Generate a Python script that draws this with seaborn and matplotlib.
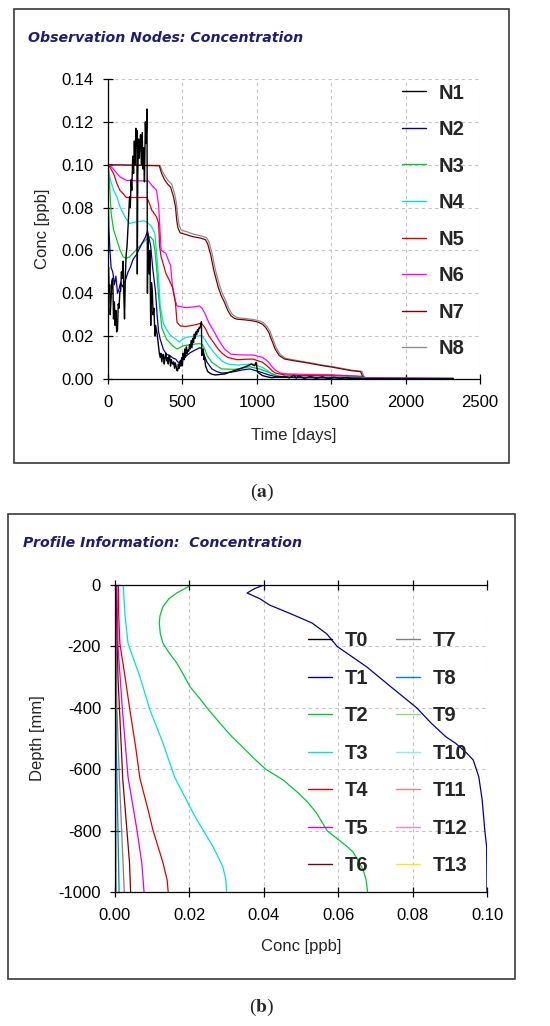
import pandas as pd
import seaborn as sns
import matplotlib.pyplot as plt
from matplotlib.patches import Rectangle
from matplotlib.lines import Line2D

sns.set_style("white")
plt.rcParams['font.family'] = ['Liberation Sans', 'DejaVu Sans']
plt.rcParams['axes.unicode_minus'] = False
plt.rcParams['mathtext.fontset'] = 'stix'

# ---- (a) observation nodes: (time [days], conc [ppb]) ----
n1 = [(0, 0.050), (4, 0.052), (8, 0.040), (11, 0.044), (15, 0.030), (21, 0.038), (26, 0.046),
      (32, 0.047), (37, 0.028), (43, 0.036), (48, 0.025), (53, 0.032), (58, 0.022), (64, 0.023),
      (69, 0.035), (74, 0.033), (80, 0.041), (85, 0.041), (90, 0.050), (96, 0.047), (102, 0.055),
      (106, 0.040), (111, 0.028), (117, 0.049), (122, 0.058), (128, 0.062), (134, 0.070),
      (140, 0.078), (145, 0.085), (150, 0.080), (155, 0.093), (160, 0.088), (166, 0.104),
      (172, 0.096), (177, 0.111), (182, 0.100), (187, 0.117), (191, 0.108), (194, 0.116),
      (197, 0.049), (200, 0.095), (205, 0.112), (209, 0.103), (214, 0.110), (219, 0.114),
      (224, 0.100), (230, 0.115), (235, 0.098), (240, 0.108), (245, 0.092), (251, 0.120),
      (256, 0.110), (262, 0.126), (265, 0.040), (268, 0.067), (272, 0.060), (277, 0.049),
      (282, 0.060), (287, 0.025), (292, 0.045), (298, 0.041), (303, 0.030), (309, 0.033),
      (315, 0.020), (320, 0.025), (330, 0.021), (340, 0.015), (345, 0.012), (351, 0.010),
      (356, 0.012), (362, 0.008), (367, 0.011), (372, 0.0115), (378, 0.007), (383, 0.010),
      (389, 0.012), (394, 0.0085), (400, 0.010), (405, 0.007), (410, 0.011), (415, 0.0108),
      (420, 0.006), (426, 0.009), (431, 0.0075), (436, 0.0069), (441, 0.008), (447, 0.005),
      (452, 0.0075), (457, 0.0062), (462, 0.004), (468, 0.0038), (473, 0.007), (478, 0.005),
      (485, 0.0085), (490, 0.006), (495, 0.010), (500, 0.0062), (505, 0.012), (511, 0.009),
      (516, 0.014), (521, 0.010), (527, 0.015), (532, 0.012), (538, 0.0135), (543, 0.0131),
      (548, 0.016), (553, 0.014), (559, 0.018), (564, 0.0146), (570, 0.019), (575, 0.017),
      (580, 0.021), (585, 0.019), (591, 0.022), (596, 0.0208), (601, 0.023), (607, 0.022),
      (612, 0.024), (617, 0.0238), (622, 0.025), (628, 0.0267), (630, 0.0109), (635, 0.013),
      (640, 0.014), (645, 0.009), (650, 0.010), (655, 0.0062), (662, 0.005), (670, 0.0035),
      (677, 0.0031), (690, 0.0025), (700, 0.0022), (719, 0.0019), (740, 0.0020), (760, 0.0022),
      (783, 0.0023), (810, 0.0030), (847, 0.0039), (880, 0.0046), (911, 0.0054), (940, 0.0062),
      (964, 0.0070), (985, 0.0062), (995, 0.0078), (1006, 0.0031), (1020, 0.0025),
      (1038, 0.0016), (1070, 0.0010), (1102, 0.0006), (1150, 0.0010), (1187, 0.0012),
      (1220, 0.0005), (1250, 0.0018), (1265, 0.0004), (1280, 0.0015), (1320, 0.0003),
      (1360, 0.0012), (1400, 0.0003), (1440, 0.0010), (1480, 0.0002), (1520, 0.0008),
      (1560, 0.0002), (1600, 0.0006), (1650, 0.0001), (1700, 0.0001), (1740, 0.0), (2320, 0.0)]

n2 = [(0, 0.087), (3, 0.080), (6, 0.070), (13, 0.060), (21, 0.052), (32, 0.050), (43, 0.044),
      (53, 0.048), (64, 0.040), (74, 0.042), (85, 0.045), (96, 0.043), (117, 0.046), (135, 0.050),
      (149, 0.052), (170, 0.056), (191, 0.058), (212, 0.061), (234, 0.064), (250, 0.066),
      (266, 0.069), (287, 0.062), (300, 0.052), (319, 0.041), (330, 0.030), (340, 0.022),
      (351, 0.0185), (372, 0.0138), (394, 0.0115), (415, 0.0110), (436, 0.0098), (457, 0.0092),
      (468, 0.0080), (479, 0.0077), (495, 0.0090), (511, 0.0100), (530, 0.0110), (553, 0.0123),
      (585, 0.0135), (617, 0.0146), (634, 0.0140), (650, 0.0105), (666, 0.0078), (698, 0.0047),
      (730, 0.0035), (762, 0.0028), (805, 0.0030), (847, 0.0034), (900, 0.0042), (953, 0.0047),
      (1017, 0.0034), (1081, 0.0019), (1145, 0.0008), (1300, 0.0006), (1500, 0.0005),
      (1700, 0.0004), (1740, 0.0001), (2320, 0.0001)]

n3 = [(0, 0.100), (9, 0.0927), (21, 0.0772), (38, 0.0695), (60, 0.0648), (81, 0.0601),
      (102, 0.0570), (123, 0.0563), (145, 0.0570), (166, 0.0586), (209, 0.0617), (251, 0.0648),
      (283, 0.0664), (304, 0.0648), (315, 0.0600), (326, 0.0524), (340, 0.0384), (362, 0.0238),
      (394, 0.0185), (421, 0.0165), (436, 0.0154), (464, 0.0140), (506, 0.0155), (549, 0.0160),
      (613, 0.0165), (634, 0.0162), (650, 0.0140), (666, 0.0109), (698, 0.0078), (762, 0.0047),
      (847, 0.0045), (900, 0.0050), (953, 0.0057), (1017, 0.0047), (1081, 0.0031),
      (1145, 0.0012), (1300, 0.0008), (1500, 0.0007), (1700, 0.0006), (1740, 0.0001),
      (2320, 0.0001)]

n4 = [(0, 0.100), (8, 0.096), (17, 0.0927), (38, 0.0881), (60, 0.0850), (81, 0.0803),
      (113, 0.0757), (145, 0.0726), (187, 0.0733), (240, 0.0738), (262, 0.0733), (294, 0.0710),
      (315, 0.0679), (330, 0.0560), (340, 0.0470), (351, 0.0340), (372, 0.0260), (394, 0.0230),
      (415, 0.0208), (436, 0.0195), (457, 0.0185), (479, 0.0172), (500, 0.0185), (527, 0.0195),
      (560, 0.0198), (591, 0.0200), (620, 0.0202), (634, 0.0200), (655, 0.0180), (677, 0.0155),
      (710, 0.0125), (740, 0.0101), (770, 0.0082), (804, 0.0070), (868, 0.0065), (920, 0.0068),
      (974, 0.0070), (1038, 0.0054), (1070, 0.0040), (1102, 0.0023), (1166, 0.0012),
      (1300, 0.0010), (1500, 0.0009), (1700, 0.0008), (1740, 0.0001), (2320, 0.0001)]

n5 = [(0, 0.100), (20, 0.098), (38, 0.0958), (60, 0.0912), (80, 0.0880), (102, 0.0865),
      (123, 0.0847), (200, 0.0847), (262, 0.0847), (283, 0.0811), (294, 0.0788), (326, 0.0757),
      (340, 0.0726), (347, 0.0617), (357, 0.0571), (389, 0.0493), (411, 0.0462), (432, 0.0431),
      (453, 0.0357), (464, 0.0264), (485, 0.0248), (520, 0.0245), (549, 0.0248), (580, 0.0252),
      (613, 0.0258), (634, 0.0256), (655, 0.0235), (677, 0.0202), (710, 0.0170), (740, 0.0140),
      (770, 0.0118), (804, 0.0101), (868, 0.0090), (920, 0.0092), (974, 0.0093), (1038, 0.0078),
      (1060, 0.0066), (1081, 0.0054), (1100, 0.0040), (1123, 0.0028), (1187, 0.0019),
      (1300, 0.0016), (1500, 0.0015), (1700, 0.0012), (1740, 0.0002), (2320, 0.0001)]

n6 = [(0, 0.100), (28, 0.0986), (60, 0.096), (81, 0.0943), (123, 0.0927), (200, 0.0925),
      (272, 0.0924), (294, 0.0904), (326, 0.0881), (340, 0.0811), (357, 0.0601), (389, 0.0586),
      (411, 0.0545), (421, 0.0530), (432, 0.0440), (453, 0.0364), (464, 0.0341), (500, 0.0336),
      (527, 0.0333), (570, 0.0336), (613, 0.0341), (634, 0.0329), (655, 0.0300), (677, 0.0264),
      (710, 0.0225), (740, 0.0186), (783, 0.0140), (826, 0.0116), (870, 0.0113), (920, 0.0112),
      (974, 0.0112), (1038, 0.0101), (1060, 0.0090), (1081, 0.0078), (1100, 0.0060),
      (1123, 0.0043), (1155, 0.0028), (1200, 0.0024), (1300, 0.0022), (1400, 0.0021),
      (1500, 0.0020), (1600, 0.0016), (1700, 0.0012), (1750, 0.0003), (2320, 0.0002)]

n7 = [(0, 0.100), (345, 0.0995), (360, 0.096), (380, 0.093), (400, 0.091), (421, 0.0895),
      (440, 0.085), (453, 0.0806), (462, 0.0740), (470, 0.0705), (485, 0.0682), (520, 0.0675),
      (570, 0.0664), (620, 0.0658), (655, 0.0650), (670, 0.0630), (690, 0.0580), (710, 0.0510),
      (740, 0.0430), (760, 0.0390), (783, 0.0357), (805, 0.0320), (826, 0.0295), (850, 0.0283),
      (868, 0.0279), (920, 0.0276), (974, 0.0271), (1010, 0.0265), (1038, 0.0256),
      (1060, 0.0240), (1081, 0.0217), (1095, 0.0190), (1106, 0.0171), (1123, 0.0140),
      (1150, 0.0110), (1187, 0.0093), (1250, 0.0085), (1315, 0.0078), (1380, 0.0070),
      (1443, 0.0062), (1510, 0.0055), (1570, 0.0047), (1634, 0.0039), (1698, 0.0034),
      (1712, 0.0010), (1730, 0.0005), (2000, 0.0004), (2320, 0.0003)]

n8 = [(0, 0.100), (350, 0.0997), (365, 0.097), (385, 0.0945), (405, 0.0925), (428, 0.091),
      (447, 0.0865), (460, 0.082), (470, 0.0755), (478, 0.0718), (492, 0.0695), (525, 0.0688),
      (575, 0.0676), (625, 0.0668), (662, 0.0660), (678, 0.0640), (698, 0.0590), (718, 0.0520),
      (748, 0.0440), (768, 0.0400), (791, 0.0365), (813, 0.0328), (834, 0.0302), (858, 0.0290),
      (876, 0.0285), (928, 0.0282), (982, 0.0277), (1018, 0.0271), (1046, 0.0262),
      (1068, 0.0246), (1089, 0.0223), (1103, 0.0196), (1114, 0.0176), (1131, 0.0145),
      (1158, 0.0114), (1195, 0.0096), (1258, 0.0088), (1323, 0.0080), (1388, 0.0072),
      (1451, 0.0064), (1518, 0.0057), (1578, 0.0049), (1642, 0.0041), (1706, 0.0036),
      (1720, 0.0011), (1738, 0.0005), (2000, 0.0004), (2320, 0.0003)]

node_names = ['N1', 'N2', 'N3', 'N4', 'N5', 'N6', 'N7', 'N8']
node_colors = ['#000000', '#0000a8', '#00cc22', '#00e0e0', '#e00000', '#ff00ff', '#800000', '#8c8c8c']
node_series = [n1, n2, n3, n4, n5, n6, n7, n8]

# ---- (b) profiles: (depth [mm], conc [ppb]) ----
t0 = [(0, 0.0), (-1000, 0.0)]
t1 = [(0, 0.040), (-12, 0.0375), (-26, 0.0355), (-45, 0.039), (-65, 0.0415), (-95, 0.0475),
      (-124, 0.053), (-160, 0.057), (-200, 0.0597), (-267, 0.0677), (-330, 0.074),
      (-400, 0.0811), (-450, 0.085), (-495, 0.089), (-515, 0.0915), (-547, 0.0945),
      (-570, 0.0963), (-625, 0.0978), (-700, 0.0987), (-798, 0.0994), (-853, 0.0999),
      (-1000, 0.1000)]
t2 = [(0, 0.0204), (-10, 0.019), (-26, 0.0166), (-45, 0.0145), (-70, 0.0129), (-100, 0.0121),
      (-124, 0.0119), (-160, 0.0122), (-190, 0.0129), (-220, 0.0145), (-254, 0.0166),
      (-290, 0.0183), (-332, 0.0202), (-370, 0.0228), (-407, 0.0252), (-450, 0.0282),
      (-495, 0.0315), (-530, 0.0345), (-570, 0.0378), (-600, 0.0405), (-635, 0.0452),
      (-680, 0.0495), (-710, 0.0520), (-743, 0.0542), (-800, 0.0570), (-850, 0.0622),
      (-870, 0.0640), (-900, 0.0655), (-928, 0.0667), (-960, 0.0675), (-1000, 0.0679)]
t3 = [(0, 0.0022), (-100, 0.0027), (-190, 0.0035), (-299, 0.0067), (-407, 0.0094),
      (-515, 0.0129), (-625, 0.0160), (-733, 0.0206), (-765, 0.0220), (-853, 0.0264),
      (-918, 0.0290), (-960, 0.0298), (-1000, 0.0300)]
t4 = [(0, 0.0009), (-100, 0.0010), (-190, 0.0013), (-299, 0.0027), (-407, 0.0040),
      (-515, 0.0054), (-630, 0.0067), (-733, 0.0089), (-798, 0.0102), (-905, 0.0129),
      (-960, 0.0140), (-1000, 0.0143)]
t5 = [(0, 0.0005), (-200, 0.0008), (-407, 0.0020), (-625, 0.0035), (-798, 0.0059),
      (-905, 0.0072), (-1000, 0.0078)]
t6 = [(0, 0.0003), (-300, 0.0008), (-635, 0.0021), (-798, 0.0032), (-905, 0.0039), (-1000, 0.0042)]
t7 = [(0, 0.0001), (-400, 0.0005), (-635, 0.0012), (-1000, 0.0025)]
t8 = [(0, 0.0), (-500, 0.0003), (-800, 0.0008), (-1000, 0.0011)]
t9 = [(0, 0.0), (-700, 0.0001), (-1000, 0.0003)]
t10 = [(0, 0.0), (-1000, 0.0001)]
t11 = [(0, 0.0), (-1000, 0.0)]
t12 = [(0, 0.0), (-1000, 0.0)]
t13 = [(0, 0.0), (-1000, 0.0)]

prof_names = ['T%d' % i for i in range(14)]
prof_colors = ['#000000', '#0000a0', '#00c832', '#00e0e0', '#e00000', '#e000e0', '#800000',
               '#808080', '#0080d0', '#80e080', '#80f0f0', '#f08080', '#f080f0', '#f0f000']
prof_series = [t0, t1, t2, t3, t4, t5, t6, t7, t8, t9, t10, t11, t12, t13]

fig = plt.figure(figsize=(5.5, 10.26), dpi=100)
W, H = 550, 1026
ax1 = fig.add_axes([108 / W, 1 - 379 / H, 372 / W, 300 / H])
ax2 = fig.add_axes([115 / W, 1 - 892 / H, 372 / W, 307 / H])

# panel a lines (N1 drawn last so it sits on top)
for name, col, pts in reversed(list(zip(node_names, node_colors, node_series))):
    df = pd.DataFrame(pts, columns=['t', 'c'])
    sns.lineplot(data=df, x='t', y='c', ax=ax1, color=col, lw=1.0 if name == 'N1' else 0.9,
                 sort=False, estimator=None, legend=False)

for name, col, pts in reversed(list(zip(prof_names, prof_colors, prof_series))):
    df = pd.DataFrame(pts, columns=['z', 'c'])
    sns.lineplot(data=df, x='c', y='z', ax=ax2, color=col, lw=0.9,
                 sort=False, estimator=None, legend=False)

grid_kw = dict(color='#c4c4c4', lw=0.8, ls=(0, (3, 3)))
leg_font = {'family': 'Liberation Sans', 'weight': 'bold', 'size': 14.5}

# --- axes a styling
ax1.set_xlim(0, 2500)
ax1.set_ylim(0, 0.14)
ax1.set_xticks([0, 500, 1000, 1500, 2000, 2500])
ax1.set_yticks([0, 0.02, 0.04, 0.06, 0.08, 0.10, 0.12, 0.14])
ax1.set_yticklabels(['%.2f' % v for v in ax1.get_yticks()])
ax1.grid(True, **grid_kw)
ax1.set_axisbelow(True)
for s in ['top', 'right']:
    ax1.spines[s].set_visible(False)
ax1.set_xlabel('Time [days]', fontsize=12, va='center')
ax1.set_ylabel('Conc [ppb]', fontsize=12, va='center')
ax1.xaxis.set_label_coords(0.5, -0.187)
ax1.yaxis.set_label_coords(-0.175, 0.5)

h1 = [Line2D([], [], color=c, lw=1.0) for c in node_colors]
ax1.legend(h1, node_names, loc='upper left', bbox_to_anchor=(0.79, 0.985), frameon=False,
           prop=leg_font, handlelength=1.2, handletextpad=0.6, labelspacing=0.87,
           borderpad=0, borderaxespad=0)

# --- axes b styling
ax2.set_xlim(0, 0.10)
ax2.set_ylim(-1000, 0)
ax2.set_xticks([0, 0.02, 0.04, 0.06, 0.08, 0.10])
ax2.set_xticklabels(['%.2f' % v for v in ax2.get_xticks()])
ax2.set_yticks([0, -200, -400, -600, -800, -1000])
ax2.set_yticklabels(['%d' % v for v in ax2.get_yticks()])
ax2.grid(True, **grid_kw)
ax2.set_axisbelow(True)
ax2.spines['right'].set_visible(False)
ax2.set_xlabel('Conc [ppb]', fontsize=12, va='center')
ax2.set_ylabel('Depth [mm]', fontsize=12, va='center')
ax2.xaxis.set_label_coords(0.5, -0.179)
ax2.yaxis.set_label_coords(-0.207, 0.5)

h2 = [Line2D([], [], color=c, lw=1.0) for c in prof_colors]
ax2.legend(h2, prof_names, ncol=2, loc='upper left', bbox_to_anchor=(0.519, 0.85), frameon=False,
           prop=leg_font, handlelength=1.2, handletextpad=0.6, labelspacing=0.92,
           columnspacing=1.4, borderpad=0, borderaxespad=0)

for ax in (ax1, ax2):
    for s in ax.spines.values():
        s.set_color('black')
        s.set_linewidth(0.9)
    ax.tick_params(axis='both', direction='inout', length=7, width=0.9, labelsize=12,
                   colors='black', left=True, bottom=True)
    ax.tick_params(axis='x', pad=8)
    ax.tick_params(axis='y', pad=6.5)
ax2.tick_params(axis='x', top=True, labeltop=False)

# outer frames and titles
fig.add_artist(Rectangle((14 / W, 1 - 463 / H), 495 / W, 454 / H, transform=fig.transFigure,
                         fill=False, ec='#3a3a3a', lw=1.2))
fig.add_artist(Rectangle((8 / W, 1 - 979 / H), 507 / W, 465 / H, transform=fig.transFigure,
                         fill=False, ec='#3a3a3a', lw=1.2))
title_kw = dict(color='#1c1c78', fontsize=10.2, fontweight='bold', fontstyle='italic',
                family='DejaVu Sans', ha='left', va='center')
fig.text(28 / W, 1 - 38 / H, 'Observation Nodes: Concentration', **title_kw)
fig.text(23 / W, 1 - 543 / H, 'Profile Information:  Concentration', **title_kw)

fig.text(262 / W, 1 - 492 / H, r'($\mathbf{a}$)', ha='center', va='center', fontsize=14,
         family='Liberation Serif')
fig.text(262 / W, 1 - 1007 / H, r'($\mathbf{b}$)', ha='center', va='center', fontsize=14,
         family='Liberation Serif')

fig.savefig('out.png', dpi=100)
